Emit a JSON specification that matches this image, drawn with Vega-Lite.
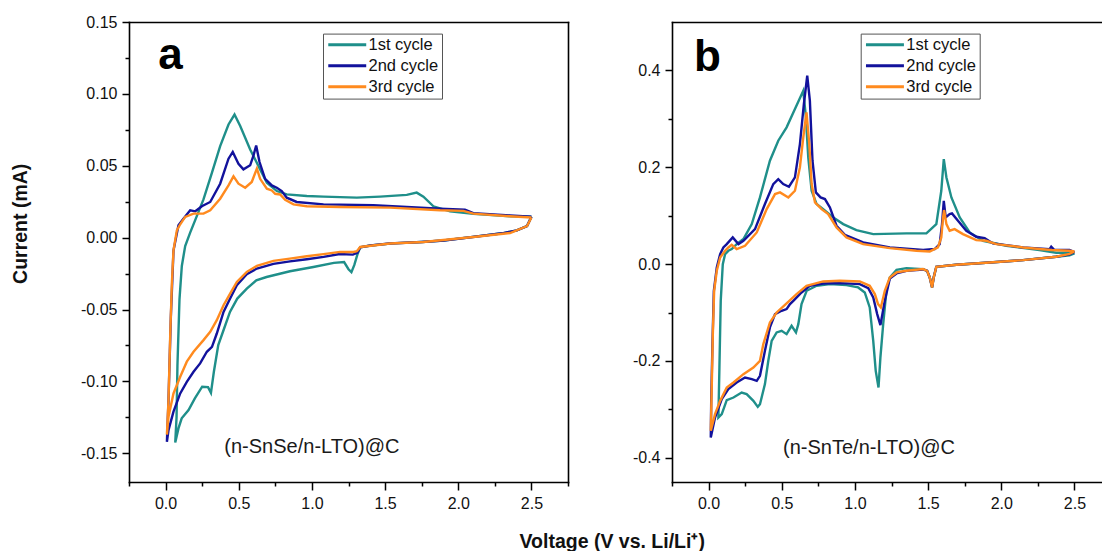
{
 "$schema": "https://vega.github.io/schema/vega-lite/v6.json",
 "padding": {"left": 10, "top": 14, "right": 0, "bottom": 0},
 "background": "white",
 "config": {
  "font": "Liberation Sans",
  "view": {"stroke": null},
  "axis": {"domainColor": "black", "domainWidth": 1.6, "domainCap": "square", "tickColor": "black", "tickWidth": 1.5, "labelFontSize": 16, "labelColor": "#111111", "labelFlush": false, "labelOverlap": false, "grid": false, "titleFontSize": 19.5, "titleFontWeight": "bold", "titleColor": "#111111"},
  "legend": {"labelFontSize": 16.5, "labelColor": "#111111", "strokeColor": "#555555", "padding": 3, "symbolOffset": 13, "labelOffset": 13, "symbolStrokeWidth": 3, "symbolType": "M-4,0L4,0", "symbolSize": 90, "rowPadding": 4}
 },
 "bounds": "flush",
 "spacing": 104,
 "resolve": {"scale": {"color": "independent"}},
 "datasets": {
  "a": [
   {"c":"1st cycle","k":0,"v":2.5,"i":0.0145},{"c":"1st cycle","k":1,"v":2.47,"i":0.008},{"c":"1st cycle","k":2,"v":2.4,"i":0.005},{"c":"1st cycle","k":3,"v":2.3,"i":0.003},{"c":"1st cycle","k":4,"v":2.1,"i":0.0005},{"c":"1st cycle","k":5,"v":1.9,"i":-0.002},{"c":"1st cycle","k":6,"v":1.75,"i":-0.003},{"c":"1st cycle","k":7,"v":1.55,"i":-0.004},{"c":"1st cycle","k":8,"v":1.4,"i":-0.0055},{"c":"1st cycle","k":9,"v":1.33,"i":-0.0068},{"c":"1st cycle","k":10,"v":1.31,"i":-0.012},{"c":"1st cycle","k":11,"v":1.29,"i":-0.019},{"c":"1st cycle","k":12,"v":1.27,"i":-0.024},{"c":"1st cycle","k":13,"v":1.25,"i":-0.022},{"c":"1st cycle","k":14,"v":1.22,"i":-0.017},{"c":"1st cycle","k":15,"v":1.15,"i":-0.0176},{"c":"1st cycle","k":16,"v":1.01,"i":-0.0204},{"c":"1st cycle","k":17,"v":0.85,"i":-0.0234},{"c":"1st cycle","k":18,"v":0.69,"i":-0.0274},{"c":"1st cycle","k":19,"v":0.62,"i":-0.0297},{"c":"1st cycle","k":20,"v":0.555,"i":-0.0355},{"c":"1st cycle","k":21,"v":0.49,"i":-0.0424},{"c":"1st cycle","k":22,"v":0.44,"i":-0.0517},{"c":"1st cycle","k":23,"v":0.4,"i":-0.0632},{"c":"1st cycle","k":24,"v":0.36,"i":-0.0748},{"c":"1st cycle","k":25,"v":0.33,"i":-0.0933},{"c":"1st cycle","k":26,"v":0.31,"i":-0.108},{"c":"1st cycle","k":27,"v":0.29,"i":-0.104},{"c":"1st cycle","k":28,"v":0.25,"i":-0.1037},{"c":"1st cycle","k":29,"v":0.2,"i":-0.1118},{"c":"1st cycle","k":30,"v":0.157,"i":-0.1199},{"c":"1st cycle","k":31,"v":0.11,"i":-0.1257},{"c":"1st cycle","k":32,"v":0.088,"i":-0.1327},{"c":"1st cycle","k":33,"v":0.066,"i":-0.1425},{"c":"1st cycle","k":34,"v":0.075,"i":-0.125},{"c":"1st cycle","k":35,"v":0.081,"i":-0.0891},{"c":"1st cycle","k":36,"v":0.095,"i":-0.0429},{"c":"1st cycle","k":37,"v":0.111,"i":-0.0197},{"c":"1st cycle","k":38,"v":0.134,"i":-0.0058},{"c":"1st cycle","k":39,"v":0.168,"i":0.0035},{"c":"1st cycle","k":40,"v":0.214,"i":0.0151},{"c":"1st cycle","k":41,"v":0.259,"i":0.0266},{"c":"1st cycle","k":42,"v":0.317,"i":0.0452},{"c":"1st cycle","k":43,"v":0.373,"i":0.0637},{"c":"1st cycle","k":44,"v":0.43,"i":0.0787},{"c":"1st cycle","k":45,"v":0.471,"i":0.0856},{"c":"1st cycle","k":46,"v":0.51,"i":0.0776},{"c":"1st cycle","k":47,"v":0.578,"i":0.0613},{"c":"1st cycle","k":48,"v":0.646,"i":0.0475},{"c":"1st cycle","k":49,"v":0.692,"i":0.0382},{"c":"1st cycle","k":50,"v":0.76,"i":0.0324},{"c":"1st cycle","k":51,"v":0.828,"i":0.0301},{"c":"1st cycle","k":52,"v":0.965,"i":0.029},{"c":"1st cycle","k":53,"v":1.079,"i":0.0285},{"c":"1st cycle","k":54,"v":1.307,"i":0.0278},{"c":"1st cycle","k":55,"v":1.466,"i":0.0285},{"c":"1st cycle","k":56,"v":1.648,"i":0.0297},{"c":"1st cycle","k":57,"v":1.716,"i":0.0313},{"c":"1st cycle","k":58,"v":1.762,"i":0.0285},{"c":"1st cycle","k":59,"v":1.83,"i":0.0218},{"c":"1st cycle","k":60,"v":1.944,"i":0.0183},{"c":"1st cycle","k":61,"v":2.103,"i":0.0166},{"c":"1st cycle","k":62,"v":2.354,"i":0.0149},{"c":"1st cycle","k":63,"v":2.5,"i":0.0145},
   {"c":"2nd cycle","k":0,"v":2.5,"i":0.0145},{"c":"2nd cycle","k":1,"v":2.47,"i":0.008},{"c":"2nd cycle","k":2,"v":2.4,"i":0.005},{"c":"2nd cycle","k":3,"v":2.3,"i":0.003},{"c":"2nd cycle","k":4,"v":2.1,"i":0.0004},{"c":"2nd cycle","k":5,"v":1.9,"i":-0.002},{"c":"2nd cycle","k":6,"v":1.75,"i":-0.003},{"c":"2nd cycle","k":7,"v":1.53,"i":-0.0041},{"c":"2nd cycle","k":8,"v":1.4,"i":-0.0055},{"c":"2nd cycle","k":9,"v":1.33,"i":-0.0068},{"c":"2nd cycle","k":10,"v":1.31,"i":-0.0105},{"c":"2nd cycle","k":11,"v":1.28,"i":-0.0118},{"c":"2nd cycle","k":12,"v":1.19,"i":-0.0114},{"c":"2nd cycle","k":13,"v":1.08,"i":-0.0134},{"c":"2nd cycle","k":14,"v":0.965,"i":-0.015},{"c":"2nd cycle","k":15,"v":0.85,"i":-0.0165},{"c":"2nd cycle","k":16,"v":0.737,"i":-0.0183},{"c":"2nd cycle","k":17,"v":0.624,"i":-0.0215},{"c":"2nd cycle","k":18,"v":0.555,"i":-0.0255},{"c":"2nd cycle","k":19,"v":0.487,"i":-0.0331},{"c":"2nd cycle","k":20,"v":0.441,"i":-0.0424},{"c":"2nd cycle","k":21,"v":0.396,"i":-0.0517},{"c":"2nd cycle","k":22,"v":0.35,"i":-0.0667},{"c":"2nd cycle","k":23,"v":0.317,"i":-0.076},{"c":"2nd cycle","k":24,"v":0.282,"i":-0.0794},{"c":"2nd cycle","k":25,"v":0.236,"i":-0.0875},{"c":"2nd cycle","k":26,"v":0.191,"i":-0.0933},{"c":"2nd cycle","k":27,"v":0.145,"i":-0.1003},{"c":"2nd cycle","k":28,"v":0.1,"i":-0.1084},{"c":"2nd cycle","k":29,"v":0.054,"i":-0.1211},{"c":"2nd cycle","k":30,"v":0.02,"i":-0.1339},{"c":"2nd cycle","k":31,"v":0.009,"i":-0.142},{"c":"2nd cycle","k":32,"v":0.02,"i":-0.113},{"c":"2nd cycle","k":33,"v":0.036,"i":-0.0551},{"c":"2nd cycle","k":34,"v":0.054,"i":-0.009},{"c":"2nd cycle","k":35,"v":0.088,"i":0.0086},{"c":"2nd cycle","k":36,"v":0.122,"i":0.0132},{"c":"2nd cycle","k":37,"v":0.168,"i":0.019},{"c":"2nd cycle","k":38,"v":0.203,"i":0.0183},{"c":"2nd cycle","k":39,"v":0.248,"i":0.0218},{"c":"2nd cycle","k":40,"v":0.305,"i":0.0248},{"c":"2nd cycle","k":41,"v":0.373,"i":0.0375},{"c":"2nd cycle","k":42,"v":0.43,"i":0.0549},{"c":"2nd cycle","k":43,"v":0.459,"i":0.0596},{"c":"2nd cycle","k":44,"v":0.498,"i":0.0514},{"c":"2nd cycle","k":45,"v":0.532,"i":0.0475},{"c":"2nd cycle","k":46,"v":0.578,"i":0.0503},{"c":"2nd cycle","k":47,"v":0.601,"i":0.0572},{"c":"2nd cycle","k":48,"v":0.619,"i":0.0641},{"c":"2nd cycle","k":49,"v":0.642,"i":0.0526},{"c":"2nd cycle","k":50,"v":0.68,"i":0.0409},{"c":"2nd cycle","k":51,"v":0.726,"i":0.0363},{"c":"2nd cycle","k":52,"v":0.76,"i":0.0347},{"c":"2nd cycle","k":53,"v":0.794,"i":0.0324},{"c":"2nd cycle","k":54,"v":0.828,"i":0.0278},{"c":"2nd cycle","k":55,"v":0.896,"i":0.0248},{"c":"2nd cycle","k":56,"v":1.079,"i":0.0231},{"c":"2nd cycle","k":57,"v":1.42,"i":0.0225},{"c":"2nd cycle","k":58,"v":1.876,"i":0.0201},{"c":"2nd cycle","k":59,"v":2.046,"i":0.0194},{"c":"2nd cycle","k":60,"v":2.103,"i":0.017},{"c":"2nd cycle","k":61,"v":2.354,"i":0.0155},{"c":"2nd cycle","k":62,"v":2.5,"i":0.0145},
   {"c":"3rd cycle","k":0,"v":2.5,"i":0.014},{"c":"3rd cycle","k":1,"v":2.47,"i":0.008},{"c":"3rd cycle","k":2,"v":2.354,"i":0.0032},{"c":"3rd cycle","k":3,"v":2.103,"i":0.0004},{"c":"3rd cycle","k":4,"v":1.762,"i":-0.003},{"c":"3rd cycle","k":5,"v":1.534,"i":-0.0041},{"c":"3rd cycle","k":6,"v":1.33,"i":-0.0065},{"c":"3rd cycle","k":7,"v":1.307,"i":-0.0095},{"c":"3rd cycle","k":8,"v":1.284,"i":-0.01},{"c":"3rd cycle","k":9,"v":1.192,"i":-0.0099},{"c":"3rd cycle","k":10,"v":1.079,"i":-0.0115},{"c":"3rd cycle","k":11,"v":0.965,"i":-0.013},{"c":"3rd cycle","k":12,"v":0.849,"i":-0.0146},{"c":"3rd cycle","k":13,"v":0.737,"i":-0.0162},{"c":"3rd cycle","k":14,"v":0.624,"i":-0.0197},{"c":"3rd cycle","k":15,"v":0.555,"i":-0.0238},{"c":"3rd cycle","k":16,"v":0.487,"i":-0.0308},{"c":"3rd cycle","k":17,"v":0.441,"i":-0.0389},{"c":"3rd cycle","k":18,"v":0.396,"i":-0.047},{"c":"3rd cycle","k":19,"v":0.35,"i":-0.0574},{"c":"3rd cycle","k":20,"v":0.305,"i":-0.0655},{"c":"3rd cycle","k":21,"v":0.259,"i":-0.0713},{"c":"3rd cycle","k":22,"v":0.191,"i":-0.0794},{"c":"3rd cycle","k":23,"v":0.145,"i":-0.0863},{"c":"3rd cycle","k":24,"v":0.1,"i":-0.0968},{"c":"3rd cycle","k":25,"v":0.054,"i":-0.1084},{"c":"3rd cycle","k":26,"v":0.02,"i":-0.1246},{"c":"3rd cycle","k":27,"v":0.009,"i":-0.137},{"c":"3rd cycle","k":28,"v":0.02,"i":-0.113},{"c":"3rd cycle","k":29,"v":0.032,"i":-0.0667},{"c":"3rd cycle","k":30,"v":0.043,"i":-0.0319},{"c":"3rd cycle","k":31,"v":0.054,"i":-0.0088},{"c":"3rd cycle","k":32,"v":0.077,"i":0.0051},{"c":"3rd cycle","k":33,"v":0.1,"i":0.0093},{"c":"3rd cycle","k":34,"v":0.134,"i":0.0144},{"c":"3rd cycle","k":35,"v":0.191,"i":0.0167},{"c":"3rd cycle","k":36,"v":0.259,"i":0.0167},{"c":"3rd cycle","k":37,"v":0.305,"i":0.019},{"c":"3rd cycle","k":38,"v":0.373,"i":0.0271},{"c":"3rd cycle","k":39,"v":0.43,"i":0.0363},{"c":"3rd cycle","k":40,"v":0.464,"i":0.0426},{"c":"3rd cycle","k":41,"v":0.498,"i":0.0375},{"c":"3rd cycle","k":42,"v":0.544,"i":0.0347},{"c":"3rd cycle","k":43,"v":0.589,"i":0.0387},{"c":"3rd cycle","k":44,"v":0.624,"i":0.048},{"c":"3rd cycle","k":45,"v":0.646,"i":0.0409},{"c":"3rd cycle","k":46,"v":0.692,"i":0.034},{"c":"3rd cycle","k":47,"v":0.726,"i":0.0328},{"c":"3rd cycle","k":48,"v":0.749,"i":0.0305},{"c":"3rd cycle","k":49,"v":0.783,"i":0.03},{"c":"3rd cycle","k":50,"v":0.817,"i":0.0263},{"c":"3rd cycle","k":51,"v":0.874,"i":0.0231},{"c":"3rd cycle","k":52,"v":0.965,"i":0.0218},{"c":"3rd cycle","k":53,"v":1.192,"i":0.0213},{"c":"3rd cycle","k":54,"v":1.534,"i":0.0209},{"c":"3rd cycle","k":55,"v":1.876,"i":0.019},{"c":"3rd cycle","k":56,"v":2.035,"i":0.0186},{"c":"3rd cycle","k":57,"v":2.103,"i":0.0167},{"c":"3rd cycle","k":58,"v":2.354,"i":0.0149},{"c":"3rd cycle","k":59,"v":2.5,"i":0.014}
  ],
  "b": [
   {"c":"1st cycle","k":0,"v":2.5,"i":0.022},{"c":"1st cycle","k":1,"v":2.466,"i":0.018},{"c":"1st cycle","k":2,"v":2.375,"i":0.0152},{"c":"1st cycle","k":3,"v":2.148,"i":0.0083},{"c":"1st cycle","k":4,"v":1.92,"i":0.0034},{"c":"1st cycle","k":5,"v":1.693,"i":-0.0014},{"c":"1st cycle","k":6,"v":1.556,"i":-0.0055},{"c":"1st cycle","k":7,"v":1.538,"i":-0.0276},{"c":"1st cycle","k":8,"v":1.527,"i":-0.0482},{"c":"1st cycle","k":9,"v":1.511,"i":-0.0276},{"c":"1st cycle","k":10,"v":1.493,"i":-0.0138},{"c":"1st cycle","k":11,"v":1.466,"i":-0.0103},{"c":"1st cycle","k":12,"v":1.352,"i":-0.0083},{"c":"1st cycle","k":13,"v":1.284,"i":-0.012},{"c":"1st cycle","k":14,"v":1.238,"i":-0.0276},{"c":"1st cycle","k":15,"v":1.215,"i":-0.0551},{"c":"1st cycle","k":16,"v":1.193,"i":-0.124},{"c":"1st cycle","k":17,"v":1.174,"i":-0.1928},{"c":"1st cycle","k":18,"v":1.161,"i":-0.2548},{"c":"1st cycle","k":19,"v":1.142,"i":-0.2204},{"c":"1st cycle","k":20,"v":1.125,"i":-0.1584},{"c":"1st cycle","k":21,"v":1.101,"i":-0.0895},{"c":"1st cycle","k":22,"v":1.067,"i":-0.0586},{"c":"1st cycle","k":23,"v":1.022,"i":-0.0482},{"c":"1st cycle","k":24,"v":0.942,"i":-0.0434},{"c":"1st cycle","k":25,"v":0.829,"i":-0.0413},{"c":"1st cycle","k":26,"v":0.738,"i":-0.0448},{"c":"1st cycle","k":27,"v":0.67,"i":-0.0551},{"c":"1st cycle","k":28,"v":0.635,"i":-0.0826},{"c":"1st cycle","k":29,"v":0.613,"i":-0.124},{"c":"1st cycle","k":30,"v":0.597,"i":-0.1412},{"c":"1st cycle","k":31,"v":0.567,"i":-0.1274},{"c":"1st cycle","k":32,"v":0.533,"i":-0.1446},{"c":"1st cycle","k":33,"v":0.499,"i":-0.1377},{"c":"1st cycle","k":34,"v":0.465,"i":-0.1412},{"c":"1st cycle","k":35,"v":0.431,"i":-0.1584},{"c":"1st cycle","k":36,"v":0.408,"i":-0.1997},{"c":"1st cycle","k":37,"v":0.385,"i":-0.2479},{"c":"1st cycle","k":38,"v":0.351,"i":-0.2893},{"c":"1st cycle","k":39,"v":0.336,"i":-0.2948},{"c":"1st cycle","k":40,"v":0.306,"i":-0.2824},{"c":"1st cycle","k":41,"v":0.26,"i":-0.2686},{"c":"1st cycle","k":42,"v":0.226,"i":-0.2652},{"c":"1st cycle","k":43,"v":0.17,"i":-0.2755},{"c":"1st cycle","k":44,"v":0.124,"i":-0.281},{"c":"1st cycle","k":45,"v":0.09,"i":-0.3099},{"c":"1st cycle","k":46,"v":0.067,"i":-0.3168},{"c":"1st cycle","k":47,"v":0.074,"i":-0.2135},{"c":"1st cycle","k":48,"v":0.083,"i":-0.0758},{"c":"1st cycle","k":49,"v":0.097,"i":0.0},{"c":"1st cycle","k":50,"v":0.113,"i":0.0207},{"c":"1st cycle","k":51,"v":0.135,"i":0.0275},{"c":"1st cycle","k":52,"v":0.158,"i":0.031},{"c":"1st cycle","k":53,"v":0.192,"i":0.0413},{"c":"1st cycle","k":54,"v":0.238,"i":0.0517},{"c":"1st cycle","k":55,"v":0.295,"i":0.0826},{"c":"1st cycle","k":56,"v":0.351,"i":0.1377},{"c":"1st cycle","k":57,"v":0.419,"i":0.2135},{"c":"1st cycle","k":58,"v":0.476,"i":0.2548},{"c":"1st cycle","k":59,"v":0.533,"i":0.2824},{"c":"1st cycle","k":60,"v":0.59,"i":0.3202},{"c":"1st cycle","k":61,"v":0.647,"i":0.3581},{"c":"1st cycle","k":62,"v":0.665,"i":0.303},{"c":"1st cycle","k":63,"v":0.681,"i":0.2204},{"c":"1st cycle","k":64,"v":0.704,"i":0.1515},{"c":"1st cycle","k":65,"v":0.738,"i":0.124},{"c":"1st cycle","k":66,"v":0.783,"i":0.1136},{"c":"1st cycle","k":67,"v":0.852,"i":0.0964},{"c":"1st cycle","k":68,"v":0.92,"i":0.0826},{"c":"1st cycle","k":69,"v":1.01,"i":0.0702},{"c":"1st cycle","k":70,"v":1.125,"i":0.062},{"c":"1st cycle","k":71,"v":1.352,"i":0.0634},{"c":"1st cycle","k":72,"v":1.488,"i":0.0634},{"c":"1st cycle","k":73,"v":1.556,"i":0.0826},{"c":"1st cycle","k":74,"v":1.59,"i":0.1515},{"c":"1st cycle","k":75,"v":1.607,"i":0.2169},{"c":"1st cycle","k":76,"v":1.625,"i":0.179},{"c":"1st cycle","k":77,"v":1.659,"i":0.1377},{"c":"1st cycle","k":78,"v":1.716,"i":0.0964},{"c":"1st cycle","k":79,"v":1.784,"i":0.0654},{"c":"1st cycle","k":80,"v":1.875,"i":0.0482},{"c":"1st cycle","k":81,"v":2.034,"i":0.0379},{"c":"1st cycle","k":82,"v":2.261,"i":0.029},{"c":"1st cycle","k":83,"v":2.375,"i":0.0234},{"c":"1st cycle","k":84,"v":2.466,"i":0.0235},{"c":"1st cycle","k":85,"v":2.5,"i":0.022},
   {"c":"2nd cycle","k":0,"v":2.5,"i":0.025},{"c":"2nd cycle","k":1,"v":2.466,"i":0.02},{"c":"2nd cycle","k":2,"v":2.375,"i":0.0152},{"c":"2nd cycle","k":3,"v":2.148,"i":0.0083},{"c":"2nd cycle","k":4,"v":1.92,"i":0.0034},{"c":"2nd cycle","k":5,"v":1.693,"i":-0.0014},{"c":"2nd cycle","k":6,"v":1.556,"i":-0.0055},{"c":"2nd cycle","k":7,"v":1.538,"i":-0.0276},{"c":"2nd cycle","k":8,"v":1.527,"i":-0.048},{"c":"2nd cycle","k":9,"v":1.511,"i":-0.0276},{"c":"2nd cycle","k":10,"v":1.493,"i":-0.0138},{"c":"2nd cycle","k":11,"v":1.466,"i":-0.011},{"c":"2nd cycle","k":12,"v":1.352,"i":-0.014},{"c":"2nd cycle","k":13,"v":1.284,"i":-0.0193},{"c":"2nd cycle","k":14,"v":1.238,"i":-0.03},{"c":"2nd cycle","k":15,"v":1.204,"i":-0.0758},{"c":"2nd cycle","k":16,"v":1.174,"i":-0.126},{"c":"2nd cycle","k":17,"v":1.152,"i":-0.1033},{"c":"2nd cycle","k":18,"v":1.125,"i":-0.0689},{"c":"2nd cycle","k":19,"v":1.091,"i":-0.0496},{"c":"2nd cycle","k":20,"v":1.033,"i":-0.0413},{"c":"2nd cycle","k":21,"v":0.897,"i":-0.0393},{"c":"2nd cycle","k":22,"v":0.783,"i":-0.04},{"c":"2nd cycle","k":23,"v":0.692,"i":-0.0448},{"c":"2nd cycle","k":24,"v":0.635,"i":-0.0586},{"c":"2nd cycle","k":25,"v":0.579,"i":-0.0758},{"c":"2nd cycle","k":26,"v":0.556,"i":-0.0826},{"c":"2nd cycle","k":27,"v":0.533,"i":-0.0929},{"c":"2nd cycle","k":28,"v":0.499,"i":-0.0964},{"c":"2nd cycle","k":29,"v":0.454,"i":-0.1033},{"c":"2nd cycle","k":30,"v":0.419,"i":-0.1308},{"c":"2nd cycle","k":31,"v":0.385,"i":-0.179},{"c":"2nd cycle","k":32,"v":0.351,"i":-0.2307},{"c":"2nd cycle","k":33,"v":0.329,"i":-0.241},{"c":"2nd cycle","k":34,"v":0.295,"i":-0.2376},{"c":"2nd cycle","k":35,"v":0.249,"i":-0.2342},{"c":"2nd cycle","k":36,"v":0.192,"i":-0.2445},{"c":"2nd cycle","k":37,"v":0.135,"i":-0.2583},{"c":"2nd cycle","k":38,"v":0.09,"i":-0.2789},{"c":"2nd cycle","k":39,"v":0.044,"i":-0.3168},{"c":"2nd cycle","k":40,"v":0.015,"i":-0.3581},{"c":"2nd cycle","k":41,"v":0.018,"i":-0.28},{"c":"2nd cycle","k":42,"v":0.027,"i":-0.1584},{"c":"2nd cycle","k":43,"v":0.036,"i":-0.0551},{"c":"2nd cycle","k":44,"v":0.056,"i":-0.0069},{"c":"2nd cycle","k":45,"v":0.079,"i":0.0207},{"c":"2nd cycle","k":46,"v":0.101,"i":0.0344},{"c":"2nd cycle","k":47,"v":0.124,"i":0.0413},{"c":"2nd cycle","k":48,"v":0.165,"i":0.0551},{"c":"2nd cycle","k":49,"v":0.204,"i":0.0413},{"c":"2nd cycle","k":50,"v":0.238,"i":0.0482},{"c":"2nd cycle","k":51,"v":0.317,"i":0.0723},{"c":"2nd cycle","k":52,"v":0.385,"i":0.124},{"c":"2nd cycle","k":53,"v":0.442,"i":0.1653},{"c":"2nd cycle","k":54,"v":0.476,"i":0.1756},{"c":"2nd cycle","k":55,"v":0.51,"i":0.1653},{"c":"2nd cycle","k":56,"v":0.549,"i":0.1598},{"c":"2nd cycle","k":57,"v":0.59,"i":0.1791},{"c":"2nd cycle","k":58,"v":0.624,"i":0.2479},{"c":"2nd cycle","k":59,"v":0.651,"i":0.3306},{"c":"2nd cycle","k":60,"v":0.674,"i":0.389},{"c":"2nd cycle","k":61,"v":0.692,"i":0.3375},{"c":"2nd cycle","k":62,"v":0.71,"i":0.2135},{"c":"2nd cycle","k":63,"v":0.733,"i":0.1481},{"c":"2nd cycle","k":64,"v":0.765,"i":0.1377},{"c":"2nd cycle","k":65,"v":0.795,"i":0.1343},{"c":"2nd cycle","k":66,"v":0.829,"i":0.1171},{"c":"2nd cycle","k":67,"v":0.874,"i":0.0792},{"c":"2nd cycle","k":68,"v":0.931,"i":0.0606},{"c":"2nd cycle","k":69,"v":1.056,"i":0.0448},{"c":"2nd cycle","k":70,"v":1.238,"i":0.0344},{"c":"2nd cycle","k":71,"v":1.466,"i":0.029},{"c":"2nd cycle","k":72,"v":1.545,"i":0.0312},{"c":"2nd cycle","k":73,"v":1.579,"i":0.0413},{"c":"2nd cycle","k":74,"v":1.595,"i":0.0826},{"c":"2nd cycle","k":75,"v":1.607,"i":0.1308},{"c":"2nd cycle","k":76,"v":1.62,"i":0.0964},{"c":"2nd cycle","k":77,"v":1.647,"i":0.1033},{"c":"2nd cycle","k":78,"v":1.663,"i":0.1047},{"c":"2nd cycle","k":79,"v":1.704,"i":0.0895},{"c":"2nd cycle","k":80,"v":1.761,"i":0.0689},{"c":"2nd cycle","k":81,"v":1.829,"i":0.0565},{"c":"2nd cycle","k":82,"v":1.886,"i":0.0537},{"c":"2nd cycle","k":83,"v":1.943,"i":0.0427},{"c":"2nd cycle","k":84,"v":2.148,"i":0.0344},{"c":"2nd cycle","k":85,"v":2.33,"i":0.031},{"c":"2nd cycle","k":86,"v":2.341,"i":0.036},{"c":"2nd cycle","k":87,"v":2.36,"i":0.03},{"c":"2nd cycle","k":88,"v":2.466,"i":0.029},{"c":"2nd cycle","k":89,"v":2.5,"i":0.025},
   {"c":"3rd cycle","k":0,"v":2.5,"i":0.026},{"c":"3rd cycle","k":1,"v":2.466,"i":0.021},{"c":"3rd cycle","k":2,"v":2.375,"i":0.0152},{"c":"3rd cycle","k":3,"v":2.148,"i":0.0083},{"c":"3rd cycle","k":4,"v":1.92,"i":0.0034},{"c":"3rd cycle","k":5,"v":1.693,"i":-0.0014},{"c":"3rd cycle","k":6,"v":1.556,"i":-0.0055},{"c":"3rd cycle","k":7,"v":1.538,"i":-0.0276},{"c":"3rd cycle","k":8,"v":1.527,"i":-0.0482},{"c":"3rd cycle","k":9,"v":1.511,"i":-0.0276},{"c":"3rd cycle","k":10,"v":1.493,"i":-0.0138},{"c":"3rd cycle","k":11,"v":1.466,"i":-0.0103},{"c":"3rd cycle","k":12,"v":1.352,"i":-0.0138},{"c":"3rd cycle","k":13,"v":1.284,"i":-0.0172},{"c":"3rd cycle","k":14,"v":1.238,"i":-0.0276},{"c":"3rd cycle","k":15,"v":1.204,"i":-0.0551},{"c":"3rd cycle","k":16,"v":1.177,"i":-0.0895},{"c":"3rd cycle","k":17,"v":1.158,"i":-0.0826},{"c":"3rd cycle","k":18,"v":1.136,"i":-0.062},{"c":"3rd cycle","k":19,"v":1.101,"i":-0.0448},{"c":"3rd cycle","k":20,"v":1.033,"i":-0.0358},{"c":"3rd cycle","k":21,"v":0.897,"i":-0.0344},{"c":"3rd cycle","k":22,"v":0.783,"i":-0.0358},{"c":"3rd cycle","k":23,"v":0.669,"i":-0.0448},{"c":"3rd cycle","k":24,"v":0.601,"i":-0.062},{"c":"3rd cycle","k":25,"v":0.533,"i":-0.0813},{"c":"3rd cycle","k":26,"v":0.465,"i":-0.0999},{"c":"3rd cycle","k":27,"v":0.419,"i":-0.1205},{"c":"3rd cycle","k":28,"v":0.374,"i":-0.1653},{"c":"3rd cycle","k":29,"v":0.351,"i":-0.1997},{"c":"3rd cycle","k":30,"v":0.306,"i":-0.2135},{"c":"3rd cycle","k":31,"v":0.238,"i":-0.2273},{"c":"3rd cycle","k":32,"v":0.17,"i":-0.2445},{"c":"3rd cycle","k":33,"v":0.124,"i":-0.2548},{"c":"3rd cycle","k":34,"v":0.079,"i":-0.2824},{"c":"3rd cycle","k":35,"v":0.044,"i":-0.3099},{"c":"3rd cycle","k":36,"v":0.015,"i":-0.3443},{"c":"3rd cycle","k":37,"v":0.022,"i":-0.2479},{"c":"3rd cycle","k":38,"v":0.029,"i":-0.1446},{"c":"3rd cycle","k":39,"v":0.038,"i":-0.0551},{"c":"3rd cycle","k":40,"v":0.056,"i":-0.0138},{"c":"3rd cycle","k":41,"v":0.079,"i":0.0138},{"c":"3rd cycle","k":42,"v":0.113,"i":0.0275},{"c":"3rd cycle","k":43,"v":0.135,"i":0.0344},{"c":"3rd cycle","k":44,"v":0.158,"i":0.04},{"c":"3rd cycle","k":45,"v":0.192,"i":0.0312},{"c":"3rd cycle","k":46,"v":0.249,"i":0.0379},{"c":"3rd cycle","k":47,"v":0.329,"i":0.0654},{"c":"3rd cycle","k":48,"v":0.397,"i":0.1136},{"c":"3rd cycle","k":49,"v":0.454,"i":0.1446},{"c":"3rd cycle","k":50,"v":0.488,"i":0.1481},{"c":"3rd cycle","k":51,"v":0.545,"i":0.1377},{"c":"3rd cycle","k":52,"v":0.59,"i":0.1515},{"c":"3rd cycle","k":53,"v":0.624,"i":0.1997},{"c":"3rd cycle","k":54,"v":0.647,"i":0.2617},{"c":"3rd cycle","k":55,"v":0.669,"i":0.3134},{"c":"3rd cycle","k":56,"v":0.688,"i":0.2479},{"c":"3rd cycle","k":57,"v":0.704,"i":0.1653},{"c":"3rd cycle","k":58,"v":0.727,"i":0.1274},{"c":"3rd cycle","k":59,"v":0.772,"i":0.1136},{"c":"3rd cycle","k":60,"v":0.817,"i":0.1033},{"c":"3rd cycle","k":61,"v":0.874,"i":0.0758},{"c":"3rd cycle","k":62,"v":0.942,"i":0.0551},{"c":"3rd cycle","k":63,"v":1.056,"i":0.0413},{"c":"3rd cycle","k":64,"v":1.238,"i":0.033},{"c":"3rd cycle","k":65,"v":1.42,"i":0.0275},{"c":"3rd cycle","k":66,"v":1.511,"i":0.0262},{"c":"3rd cycle","k":67,"v":1.567,"i":0.0344},{"c":"3rd cycle","k":68,"v":1.59,"i":0.0551},{"c":"3rd cycle","k":69,"v":1.602,"i":0.0964},{"c":"3rd cycle","k":70,"v":1.609,"i":0.1116},{"c":"3rd cycle","k":71,"v":1.625,"i":0.0826},{"c":"3rd cycle","k":72,"v":1.647,"i":0.0689},{"c":"3rd cycle","k":73,"v":1.681,"i":0.0723},{"c":"3rd cycle","k":74,"v":1.738,"i":0.062},{"c":"3rd cycle","k":75,"v":1.829,"i":0.0496},{"c":"3rd cycle","k":76,"v":1.897,"i":0.0482},{"c":"3rd cycle","k":77,"v":1.966,"i":0.0413},{"c":"3rd cycle","k":78,"v":2.148,"i":0.0344},{"c":"3rd cycle","k":79,"v":2.341,"i":0.029},{"c":"3rd cycle","k":80,"v":2.466,"i":0.0275},{"c":"3rd cycle","k":81,"v":2.5,"i":0.026}
  ]
 },
 "hconcat": [
  {
   "width": 439,
   "height": 460,
   "resolve": {"axis": {"x": "independent", "y": "independent"}},
   "layer": [
    {
     "data": {"name": "a"},
     "mark": {"type": "line", "strokeWidth": 2.4},
     "encoding": {
      "x": {"field": "v", "type": "quantitative", "scale": {"domain": [-0.25, 2.75], "nice": false, "zero": false},
            "axis": {"orient": "bottom", "values": [0, 0.5, 1, 1.5, 2, 2.5], "format": ".1f", "tickSize": 8, "labelPadding": 5,
                     "title": "Voltage (V vs. Li/Li⁺)", "titleX": 482.7, "titleY": 65, "titleAlign": "center", "titleBaseline": "alphabetic", "titleAngle": 0}},
      "y": {"field": "i", "type": "quantitative", "scale": {"domain": [-0.17, 0.15], "nice": false, "zero": false},
            "axis": {"orient": "left", "values": [-0.15, -0.1, -0.05, 0, 0.05, 0.1, 0.15], "format": ".2f", "labelExpr": "replace(datum.label, '−', '-')", "tickSize": 7, "labelPadding": 5,
                     "title": "Current (mA)", "titleX": -109, "titleY": 201.3, "titleAngle": 270, "titleAlign": "center", "titleBaseline": "middle"}},
      "color": {"field": "c", "type": "nominal", "scale": {"domain": ["1st cycle", "2nd cycle", "3rd cycle"], "range": ["#1f8f8a", "#12129c", "#ff8a1e"]},
                "legend": {"orient": "none", "legendX": 194, "legendY": 11.6, "title": null}},
      "order": {"field": "k", "type": "quantitative"}
     }
    },
    {
     "data": {"values": [{"v": 1.0, "i": -0.1454, "t": "(n-SnSe/n-LTO)@C"}]},
     "mark": {"type": "text", "fontSize": 20, "align": "center", "baseline": "middle", "color": "#1a1a1a"},
     "encoding": {
      "x": {"field": "v", "type": "quantitative", "axis": {"orient": "bottom", "values": [-0.25, 0.25, 0.75, 1.25, 1.75, 2.25, 2.75], "tickSize": 4, "labels": false, "domain": false, "title": null}},
      "y": {"field": "i", "type": "quantitative", "axis": {"orient": "left", "values": [-0.125, -0.075, -0.025, 0.025, 0.075, 0.125], "tickSize": 4, "labels": false, "domain": false, "title": null}},
      "text": {"field": "t"}
     }
    },
    {
     "data": {"values": [{"v": -0.05, "i": 0.1172, "t": "a"}]},
     "mark": {"type": "text", "fontSize": 44, "fontWeight": "bold", "align": "left", "baseline": "alphabetic", "color": "#000000"},
     "encoding": {
      "x": {"field": "v", "type": "quantitative", "axis": {"orient": "top", "ticks": false, "labels": false, "domain": true, "title": null}},
      "y": {"field": "i", "type": "quantitative", "axis": {"orient": "right", "ticks": false, "labels": false, "domain": true, "title": null}},
      "text": {"field": "t"}
     }
    }
   ]
  },
  {
   "width": 430,
   "height": 460,
   "resolve": {"axis": {"x": "independent", "y": "independent"}},
   "layer": [
    {
     "data": {"name": "b"},
     "mark": {"type": "line", "strokeWidth": 2.4},
     "encoding": {
      "x": {"field": "v", "type": "quantitative", "scale": {"domain": [-0.25, 2.688], "nice": false, "zero": false},
            "axis": {"orient": "bottom", "values": [0, 0.5, 1, 1.5, 2, 2.5], "format": ".1f", "tickSize": 8, "labelPadding": 5, "title": null}},
      "y": {"field": "i", "type": "quantitative", "scale": {"domain": [-0.45, 0.5], "nice": false, "zero": false},
            "axis": {"orient": "left", "values": [-0.4, -0.2, 0, 0.2, 0.4], "format": ".1f", "labelExpr": "replace(datum.label, '−', '-')", "tickSize": 7, "labelPadding": 5, "title": null}},
      "color": {"field": "c", "type": "nominal", "scale": {"domain": ["1st cycle", "2nd cycle", "3rd cycle"], "range": ["#1f8f8a", "#12129c", "#ff8a1e"]},
                "legend": {"orient": "none", "legendX": 188.7, "legendY": 11.6, "title": null}},
      "order": {"field": "k", "type": "quantitative"}
     }
    },
    {
     "data": {"values": [{"v": 1.096, "i": -0.379, "t": "(n-SnTe/n-LTO)@C"}]},
     "mark": {"type": "text", "fontSize": 20, "align": "center", "baseline": "middle", "color": "#1a1a1a"},
     "encoding": {
      "x": {"field": "v", "type": "quantitative", "axis": {"orient": "bottom", "values": [-0.25, 0.25, 0.75, 1.25, 1.75, 2.25], "tickSize": 4, "labels": false, "domain": false, "title": null}},
      "y": {"field": "i", "type": "quantitative", "axis": {"orient": "left", "values": [-0.3, -0.1, 0.1, 0.3], "tickSize": 4, "labels": false, "domain": false, "title": null}},
      "text": {"field": "t"}
     }
    },
    {
     "data": {"values": [{"v": -0.099, "i": 0.3994, "t": "b"}]},
     "mark": {"type": "text", "fontSize": 44, "fontWeight": "bold", "align": "left", "baseline": "alphabetic", "color": "#000000"},
     "encoding": {
      "x": {"field": "v", "type": "quantitative", "axis": {"orient": "top", "ticks": false, "labels": false, "domain": true, "title": null}},
      "y": {"field": "i", "type": "quantitative", "axis": null},
      "text": {"field": "t"}
     }
    }
   ]
  }
 ]
}
